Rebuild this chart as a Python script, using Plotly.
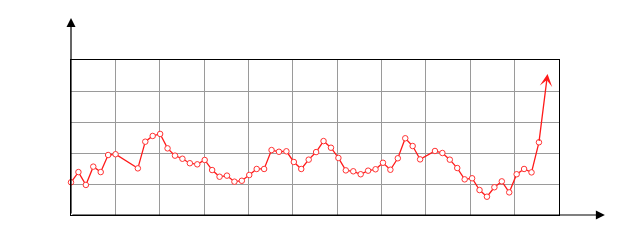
import plotly.graph_objects as go

x_idx = list(range(0, 7)) + list(range(9, 48)) + list(range(49, 64))
values = [21.1, 27.7, 19.4, 31.2, 27.7, 38.7, 39.2,
          30.1, 47.3, 51.0, 52.3, 43.0, 38.3, 36.3, 33.4, 32.7, 35.5, 29.0, 24.7, 25.4,
          21.5, 22.1, 25.8, 29.7, 29.7, 41.9, 40.8, 41.1, 34.2, 29.7, 35.7, 40.6, 47.7,
          43.4, 36.8, 28.8, 28.2, 26.3, 28.6, 29.5, 33.7, 29.2, 36.6, 49.5, 44.5, 35.9,
          41.3, 40.0, 35.7, 30.3, 23.0, 23.7, 16.1, 11.8, 17.9, 21.7, 14.6, 26.3, 29.7,
          27.5, 46.9]
arrow_tip = (64.16, 91.0)

X_MAX = 65.7
N_CELLS_X = 11
Y_MAX = 100
N_CELLS_Y = 5

fig = go.Figure()
fig.add_trace(go.Scatter(
    x=x_idx, y=values, mode="lines+markers",
    line=dict(color="#ff1a1a", width=1.3),
    marker=dict(size=5.5, color="white", line=dict(color="#ff3333", width=1)),
    cliponaxis=False, hoverinfo="skip",
))

fig.add_annotation(x=arrow_tip[0], y=arrow_tip[1], ax=x_idx[-1], ay=values[-1],
                   xref="x", yref="y", axref="x", ayref="y", text="", showarrow=True,
                   arrowhead=3, arrowsize=1.6, arrowwidth=1.3, arrowcolor="#ff1a1a")

# axis arrows
fig.add_annotation(x=1.094, y=0, xref="paper", yref="paper", ax=-534, ay=0, text="",
                   showarrow=True, arrowhead=2, arrowsize=1.5, arrowwidth=1.2, arrowcolor="black")
fig.add_annotation(x=0, y=1.271, xref="paper", yref="paper", ax=0, ay=197, text="",
                   showarrow=True, arrowhead=2, arrowsize=1.5, arrowwidth=1.2, arrowcolor="black")

fig.update_xaxes(range=[0, X_MAX], dtick=X_MAX / N_CELLS_X, tick0=0, showgrid=True,
                 gridcolor="#9a9a9a", gridwidth=1, showticklabels=False, ticks="",
                 zeroline=False, showline=True, mirror=True, linecolor="black", linewidth=1.2)
fig.update_yaxes(range=[0, Y_MAX], dtick=Y_MAX / N_CELLS_Y, tick0=0, showgrid=True,
                 gridcolor="#9a9a9a", gridwidth=1, showticklabels=False, ticks="",
                 zeroline=False, showline=True, mirror=True, linecolor="black", linewidth=1.2)

fig.update_layout(width=640, height=240, margin=dict(l=71, r=81, t=60, b=25),
                  plot_bgcolor="white", paper_bgcolor="white", showlegend=False)

fig.write_html("out.html")
